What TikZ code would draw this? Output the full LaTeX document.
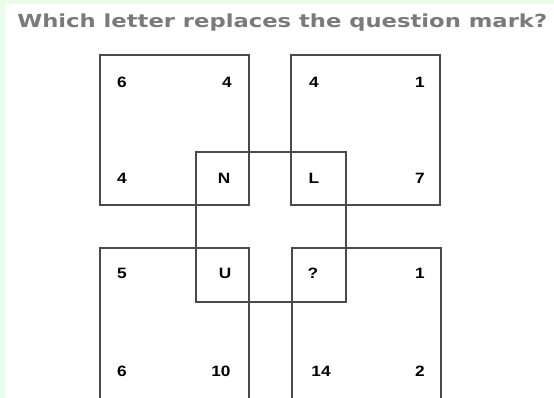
\documentclass[tikz,border=0pt]{standalone}
\usepackage{fontspec}
\setmainfont{Liberation Sans}
\newfontfamily\titlefont{DejaVu Sans}
\definecolor{bggreen}{HTML}{EAFDEA}
\definecolor{boxline}{HTML}{4A4A4A}
\definecolor{titlegray}{HTML}{7A7A7A}
\begin{document}
\begin{tikzpicture}[x=1pt,y=-1pt,
  sq/.style={draw=boxline,line width=1.3pt},
  num/.style={font=\fontsize{15}{15}\selectfont\bfseries,text=black,inner sep=0pt,anchor=center,xscale=1.15},
  ttl/.style={font=\titlefont\fontsize{18}{18}\selectfont\bfseries,text=titlegray,inner sep=0pt,anchor=west,xscale=1.26}]
\useasboundingbox (0,0) rectangle (554,398);
\fill[white] (0,0) rectangle (554,398);
\fill[bggreen] (0,0) rectangle (554,4);
\fill[bggreen] (0,0) rectangle (5,398);
\node[ttl] (title) at (17,23) {Which letter replaces the question mark?};
% boxes
\draw[sq] (100,55) rectangle (249,205);
\draw[sq] (291,55) rectangle (440,205);
\draw[sq] (100,400) -- (100,248) -- (249,248) -- (249,400);
\draw[sq] (292,400) -- (292,248) -- (441,248) -- (441,400);
\draw[sq] (196,152) rectangle (346,302);
% numbers
\node[num] (a1) at (122,82) {6};
\node[num] (a2) at (227,82) {4};
\node[num] (a3) at (122,178) {4};
\node[num] (a4) at (224,178) {N};
\node[num] (b1) at (314,82) {4};
\node[num] (b2) at (420,82) {1};
\node[num] (b3) at (314,178) {L};
\node[num] (b4) at (420,178) {7};
\node[num] (c1) at (122,273) {5};
\node[num] (c2) at (225,273) {U};
\node[num] (c3) at (122,371) {6};
\node[num] (c4) at (221,371) {10};
\node[num] (d1) at (313,273) {?};
\node[num] (d2) at (420,273) {1};
\node[num] (d3) at (321,371) {14};
\node[num] (d4) at (420,371) {2};
\end{tikzpicture}
\end{document}
